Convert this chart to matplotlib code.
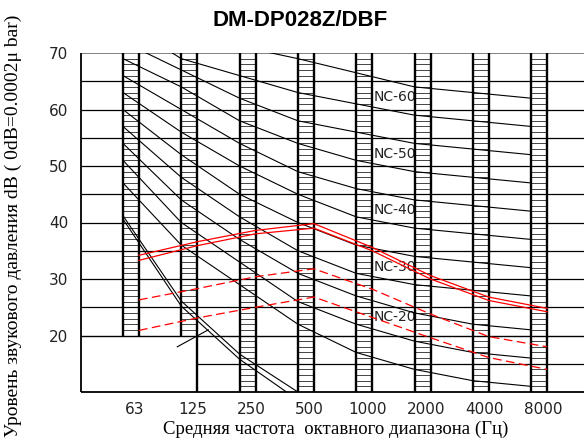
import matplotlib
matplotlib.use('Agg')
import matplotlib.pyplot as plt
import numpy as np

# octave bands (Hz)
bands = ['63', '125', '250', '500', '1000', '2000', '4000', '8000']

# NC curves, dB at each octave band
nc_names = [15, 20, 25, 30, 35, 40, 45, 50, 55, 60, 65]
nc15 = [47, 36, 29, 22, 17, 14, 12, 11]
nc20 = [51, 40, 33, 26, 22, 19, 17, 16]
nc25 = [54, 44, 37, 31, 27, 24, 22, 21]
nc30 = [57, 48, 41, 35, 31, 29, 28, 27]
nc35 = [60, 52, 45, 40, 36, 34, 33, 32]
nc40 = [63, 56, 50, 45, 41, 39, 38, 37]
nc45 = [66, 60, 54, 49, 46, 44, 43, 42]
nc50 = [69, 64, 58, 54, 51, 49, 48, 47]
nc55 = [72, 67, 62, 58, 56, 54, 53, 52]
nc60 = [75.5, 69, 66, 63, 61, 59, 58, 57]
nc65 = [80, 75, 71.2, 69, 66.5, 64, 63, 62]
nc_curves = [nc15, nc20, nc25, nc30, nc35, nc40, nc45, nc50, nc55, nc60, nc65]
nc_labeled = [20, 30, 40, 50, 60]

# hearing threshold (63..500 Hz), drawn double
thr_a = [41.2, 26.1, 16.7, 10.0]
thr_b = [40.6, 25.2, 15.8, 8.6]

# measured unit spectra (red)
solid_hi = [34.2, 36.6, 38.6, 39.8, 35.6, 30.6, 26.8, 24.8]
solid_lo = [33.3, 35.9, 38.0, 39.0, 35.0, 30.0, 26.2, 24.2]
dash_hi = [26.3, 28.3, 30.4, 31.8, 28.2, 23.8, 19.8, 18.0]
dash_lo = [20.9, 23.1, 25.0, 26.8, 23.2, 19.6, 16.1, 14.0]

W, H = 584, 441
fig = plt.figure(figsize=(W / 100, H / 100), dpi=100)
ax = fig.add_axes([81 / W, 1 - 392 / H, 503 / W, 339 / H])
x0, x1 = -0.72, 7.907
ax.set_xlim(x0, x1)
ax.set_ylim(10, 70)
for s in ax.spines.values():
    s.set_visible(False)

cw = 0.2745  # column width in band units
xb = np.arange(len(bands))

# hatched columns
for k in xb:
    bot = 20 if k < 2 else 10
    ax.fill_between([k, k + cw], bot, 70, color='white', zorder=3)
    lv = np.arange(bot + 1, 70)
    ax.hlines(lv, k, k + cw, color='#444444', lw=0.7, zorder=3.2)
    ax.vlines([k, k + cw], bot, 70, color='black', lw=1.7, zorder=4)
ax.vlines(1 + cw, 10, 20, color='black', lw=1.7, zorder=4)

# grid
ax.hlines(np.arange(25, 70, 5), x0, x1, color='black', lw=0.9, zorder=3.5)
ax.hlines(20, x0, x1, color='black', lw=1.0, zorder=3.5)
ax.hlines(15, 1 + cw, x1, color='black', lw=0.9, zorder=3.5)
ax.hlines(70, x0, x1, color='#777777', lw=1.3, zorder=3.5)
ax.hlines(10, x0, x1, color='black', lw=1.3, zorder=3.5, clip_on=False)
ax.vlines(x0, 10, 70, color='black', lw=1.3, zorder=3.5, clip_on=False)

# NC curves
for n, v in zip(nc_names, nc_curves):
    ax.plot(xb, v, color='black', lw=0.8, zorder=5)
    if n in nc_labeled:
        ax.text(4.3, v[4] + 1.2, 'NC-%d' % n, fontsize=10, ha='left',
                va='center', color='#222222', zorder=2.5)

ax.plot(xb[:4], thr_a, color='black', lw=0.8, zorder=5)
ax.plot(xb[:4], thr_b, color='black', lw=0.8, zorder=5)
ax.plot([0.931, 1.463], [18.0, 21.0], color='black', lw=0.8, zorder=5)

xr = xb + cw
ax.plot(xr, solid_hi, color='red', lw=0.9, zorder=6)
ax.plot(xr, solid_lo, color='red', lw=0.9, zorder=6)
ax.plot(xr, dash_hi, color='red', lw=0.9, ls=(0, (7, 3.5)), zorder=6)
ax.plot(xr, dash_lo, color='red', lw=0.9, ls=(0, (7, 3.5)), zorder=6)

ax.set_yticks(np.arange(20, 71, 10))
ax.set_xticks(xb + 0.2)
ax.set_xticklabels(bands)
ax.tick_params(length=0, labelsize=11, labelcolor='#222222')
ax.tick_params(axis='y', pad=9)
ax.tick_params(axis='x', pad=7)

fig.text(300 / W, 1 - 20 / H, 'DM-DP028Z/DBF', fontsize=16, fontweight='bold',
         family='Liberation Sans', ha='center', va='center')
fig.text(336 / W, 1 - 429 / H, 'Средняя частота  октавного диапазона (Гц)',
         fontsize=13.5, family='Liberation Serif', ha='center', va='center')
fig.text(13 / W, 1 - 226 / H, 'Уровень звукового давления dB ( 0dB=0.0002μ bar)',
         fontsize=14, family='Liberation Serif', ha='center', va='center',
         rotation=90)

fig.savefig('out.png', dpi=100)
